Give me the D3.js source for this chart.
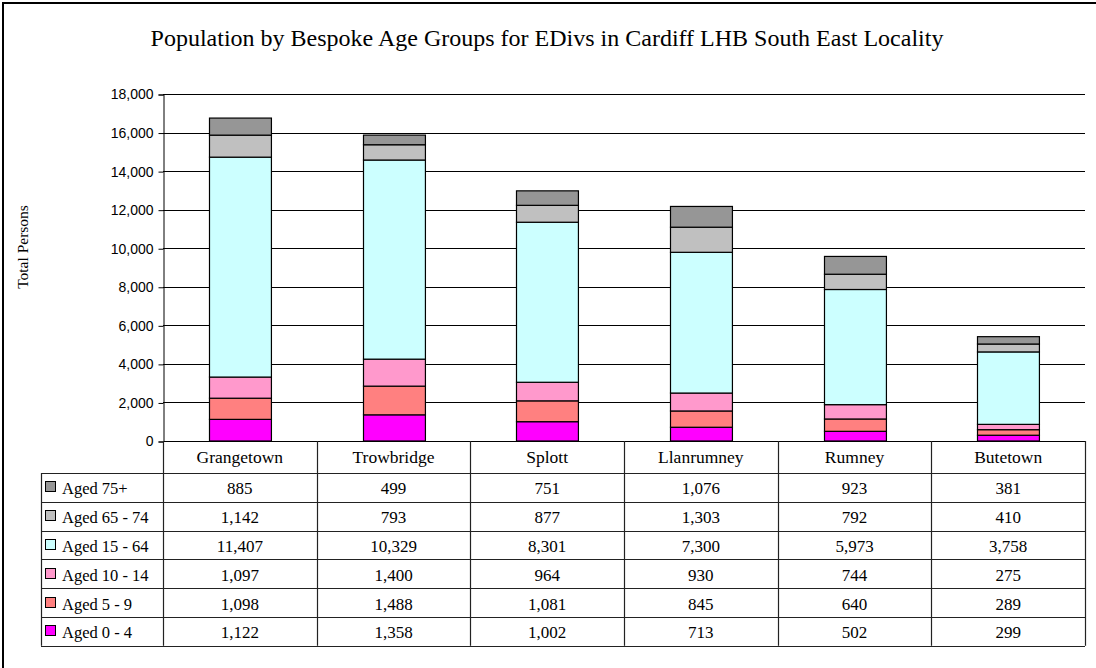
<!DOCTYPE html>
<html lang="en">
<head>
<meta charset="UTF-8">
<title>Population by Bespoke Age Groups</title>
<script src="https://d3js.org/d3.v7.min.js"></script>
<style>
    body { margin: 0; background: #fff; }
    svg text { fill: #000; }
</style>
</head>
<body>
<svg id="chart" width="1096" height="668"></svg>
<script>
    const categories = ["Grangetown", "Trowbridge", "Splott", "Llanrumney", "Rumney", "Butetown"];
    const seriesNames = ["Aged 0 - 4", "Aged 5 - 9", "Aged 10 - 14", "Aged 15 - 64", "Aged 65 - 74", "Aged 75+"];
    const aged0_4 = [1122, 1358, 1002, 713, 502, 299];
    const aged5_9 = [1098, 1488, 1081, 845, 640, 289];
    const aged10_14 = [1097, 1400, 964, 930, 744, 275];
    const aged15_64 = [11407, 10329, 8301, 7300, 5973, 3758];
    const aged65_74 = [1142, 793, 877, 1303, 792, 410];
    const aged75 = [885, 499, 751, 1076, 923, 381];
    const yTicks = [0, 2000, 4000, 6000, 8000, 10000, 12000, 14000, 16000, 18000];
    const colors = ["#FF00FF", "#FF8080", "#FF99CC", "#CCFFFF", "#C0C0C0", "#969696"];

    const values = [aged0_4, aged5_9, aged10_14, aged15_64, aged65_74, aged75];

    const svg = d3.select("#chart");
    const plot = { left: 163, right: 1085, top: 94, bottom: 441 };
    const tableLeft = 41, headerBottom = 473, rowH = 28.8;
    const serif = "'Liberation Serif', 'Times New Roman', serif";

    // outer frame (only top and left edges are visible)
    svg.append("path").attr("d", "M3,668 V3 H1096")
        .attr("fill", "none").attr("stroke", "#000").attr("stroke-width", 2);

    svg.append("text")
        .attr("x", 547).attr("y", 46)
        .attr("text-anchor", "middle")
        .style("font-family", serif)
        .style("font-size", "24px")
        .text("Population by Bespoke Age Groups for EDivs in Cardiff LHB South East Locality");

    svg.append("text")
        .attr("transform", "translate(28,247) rotate(-90)")
        .attr("text-anchor", "middle")
        .style("font-family", serif)
        .style("font-size", "15.5px")
        .text("Total Persons");

    const x = d3.scaleBand().domain(categories).range([plot.left, plot.right]).paddingInner(0).paddingOuter(0);
    const y = d3.scaleLinear().domain([0, 18000]).range([plot.bottom, plot.top]);

    // gridlines
    svg.append("g").selectAll("line").data(yTicks).join("line")
        .attr("x1", plot.left).attr("x2", plot.right)
        .attr("y1", d => Math.round(y(d)) + 0.5).attr("y2", d => Math.round(y(d)) + 0.5)
        .attr("stroke", "#000").attr("stroke-width", 1);

    // y axis
    const yAxis = svg.append("g")
        .attr("transform", `translate(${plot.left + 0.5},0.5)`)
        .call(d3.axisLeft(y).tickValues(yTicks).tickSize(5).tickFormat(d3.format(",")));
    yAxis.select(".domain").attr("stroke", "#000");
    yAxis.selectAll("text")
        .style("font-family", "'Liberation Sans', Arial, sans-serif")
        .style("font-size", "14px")
        .attr("x", -10);

    // stacked bars
    const rows = categories.map((c, i) => {
        const r = { cat: c };
        seriesNames.forEach((s, j) => r[s] = values[j][i]);
        return r;
    });
    const stacked = d3.stack().keys(seriesNames)(rows);
    const barW = x.bandwidth() * 0.403;

    svg.append("g").selectAll("g").data(stacked).join("g")
        .attr("fill", (d, i) => colors[i])
        .selectAll("rect").data(d => d).join("rect")
        .attr("x", d => Math.round(x(d.data.cat) + (x.bandwidth() - barW) / 2) + 0.5)
        .attr("y", d => y(d[1]))
        .attr("width", barW)
        .attr("height", d => y(d[0]) - y(d[1]))
        .attr("stroke", "#000").attr("stroke-width", 1.2);

    // data table
    const tbl = svg.append("g").attr("stroke", "#222").attr("stroke-width", 1.2);
    const tableBottom = headerBottom + rowH * 6;
    const bounds = categories.map(c => x(c)).concat([plot.right]);
    tbl.selectAll(".v").data(bounds).join("line")
        .attr("x1", d => Math.round(d) + 0.5).attr("x2", d => Math.round(d) + 0.5)
        .attr("y1", plot.bottom).attr("y2", tableBottom);
    tbl.append("line").attr("x1", tableLeft + 0.5).attr("x2", tableLeft + 0.5)
        .attr("y1", headerBottom).attr("y2", tableBottom);
    const hLines = d3.range(7).map(i => headerBottom + i * rowH);
    tbl.selectAll(".h").data(hLines).join("line")
        .attr("x1", tableLeft).attr("x2", plot.right)
        .attr("y1", d => Math.round(d) + 0.5).attr("y2", d => Math.round(d) + 0.5);

    svg.append("g").selectAll("text").data(categories).join("text")
        .attr("x", d => x(d) + x.bandwidth() / 2)
        .attr("y", 463)
        .attr("text-anchor", "middle")
        .style("font-family", serif).style("font-size", "17.5px")
        .text(d => d);

    // table rows, top row is the last series
    const order = d3.range(seriesNames.length).reverse();
    order.forEach((j, r) => {
        const cy = headerBottom + r * rowH + rowH / 2;
        svg.append("rect")
            .attr("x", 45.5).attr("y", Math.round(cy - 6) + 0.5)
            .attr("width", 10).attr("height", 10)
            .attr("fill", colors[j]).attr("stroke", "#000").attr("stroke-width", 1);
        svg.append("text")
            .attr("x", 62).attr("y", cy + 7)
            .style("font-family", serif).style("font-size", "16.5px")
            .text(seriesNames[j]);
        svg.append("g").selectAll("text").data(values[j]).join("text")
            .attr("x", (d, i) => x(categories[i]) + x.bandwidth() / 2)
            .attr("y", cy + 7)
            .attr("text-anchor", "middle")
            .style("font-family", serif).style("font-size", "17px")
            .text(d => d3.format(",")(d));
    });
</script>
</body>
</html>
